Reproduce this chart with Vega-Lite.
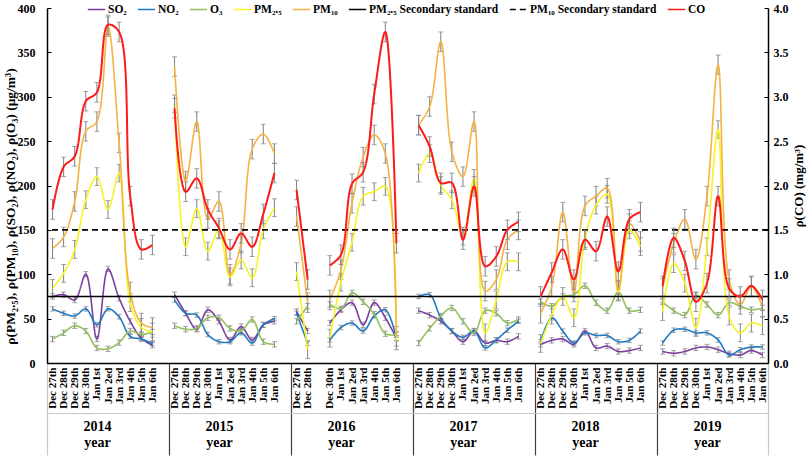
{
  "$schema": "https://vega.github.io/schema/vega-lite/v6.json",
  "width": 721,
  "height": 355,
  "autosize": {"type": "none"},
  "padding": {"left": 47, "top": 8, "right": 41, "bottom": 93},
  "datasets": {
    "errs": [
      {"series": "so2", "err": 3},
      {"series": "no2", "err": 2.5},
      {"series": "o3", "err": 3},
      {"series": "pm25", "err": 10},
      {"series": "pm10", "err": 11},
      {"series": "co", "err": 0.11}
    ],
    "obs": [
      {"i": 0, "seg": "2014", "so2": 75, "no2": 61, "o3": 27, "pm25": 84, "pm10": 129, "co": 1.73},
      {"i": 1, "seg": "2014", "so2": 77, "no2": 56, "o3": 34, "pm25": 101, "pm10": 142, "co": 2.21},
      {"i": 2, "seg": "2014", "so2": 71, "no2": 53, "o3": 42, "pm25": 128, "pm10": 182, "co": 2.33},
      {"i": 3, "seg": "2014", "so2": 100, "no2": 61, "o3": 36, "pm25": 184, "pm10": 261, "co": 2.95},
      {"i": 4, "seg": "2014", "so2": 27, "no2": 43, "o3": 17, "pm25": 210, "pm10": 272, "co": 3.05},
      {"i": 5, "seg": "2014", "so2": 106, "no2": 61, "o3": 16, "pm25": 173, "pm10": 379, "co": 3.81},
      {"i": 6, "seg": "2014", "so2": 73, "no2": 52, "o3": 23, "pm25": 214, "pm10": 248, "co": 3.73},
      {"i": 7, "seg": "2014", "so2": 47, "no2": 30, "o3": 36, "pm25": 68, "pm10": 80, "co": 1.88},
      {"i": 8, "seg": "2014", "so2": 28, "no2": 27, "o3": 32, "pm25": 40, "pm10": 45, "co": 1.28},
      {"i": 9, "seg": "2014", "so2": 20, "no2": 22, "o3": 35, "pm25": 35, "pm10": 40, "co": 1.33},
      {"i": 11, "seg": "2015", "so2": 77, "no2": 71, "o3": 42, "pm25": 292, "pm10": 334, "co": 2.87},
      {"i": 12, "seg": "2015", "so2": 56, "no2": 56, "o3": 38, "pm25": 131, "pm10": 205, "co": 1.93},
      {"i": 13, "seg": "2015", "so2": 38, "no2": 54, "o3": 39, "pm25": 174, "pm10": 272, "co": 2.08},
      {"i": 14, "seg": "2015", "so2": 60, "no2": 32, "o3": 51, "pm25": 126, "pm10": 163, "co": 1.73},
      {"i": 15, "seg": "2015", "so2": 47, "no2": 24, "o3": 51, "pm25": 150, "pm10": 182, "co": 1.52},
      {"i": 16, "seg": "2015", "so2": 26, "no2": 24, "o3": 39, "pm25": 97, "pm10": 100, "co": 1.28},
      {"i": 17, "seg": "2015", "so2": 41, "no2": 34, "o3": 36, "pm25": 116, "pm10": 135, "co": 1.46},
      {"i": 18, "seg": "2015", "so2": 26, "no2": 22.5, "o3": 49, "pm25": 96, "pm10": 241, "co": 1.31},
      {"i": 19, "seg": "2015", "so2": 43, "no2": 43, "o3": 24, "pm25": 150, "pm10": 258, "co": 1.68},
      {"i": 20, "seg": "2015", "so2": 47, "no2": 50, "o3": 21, "pm25": 175, "pm10": 236, "co": 2.14},
      {"i": 22, "seg": "2016a", "so2": 58, "no2": 56, "o3": 47, "pm25": 103, "pm10": 165, "co": 1.95},
      {"i": 23, "seg": "2016a", "so2": 36, "no2": 22, "o3": 64, "pm25": 15, "pm10": 68, "co": 0.94},
      {"i": 25, "seg": "2016b", "so2": 45, "no2": 26, "o3": 66, "pm25": 28, "pm10": 71, "co": 1.10},
      {"i": 26, "seg": "2016b", "so2": 60, "no2": 40, "o3": 61, "pm25": 91, "pm10": 105, "co": 1.22},
      {"i": 27, "seg": "2016b", "so2": 68, "no2": 45, "o3": 79, "pm25": 136, "pm10": 180, "co": 2.02},
      {"i": 28, "seg": "2016b", "so2": 43, "no2": 36, "o3": 69, "pm25": 188, "pm10": 232, "co": 2.15},
      {"i": 29, "seg": "2016b", "so2": 68, "no2": 53, "o3": 55, "pm25": 193, "pm10": 257, "co": 3.03},
      {"i": 30, "seg": "2016b", "so2": 51, "no2": 60, "o3": 33, "pm25": 199, "pm10": 236, "co": 3.73},
      {"i": 31, "seg": "2016b", "so2": 28, "no2": 28, "o3": 32, "pm25": 25, "pm10": 30, "co": 1.35},
      {"i": 33, "seg": "2017", "so2": 59, "no2": 75, "o3": 22.5, "pm25": 214, "pm10": 268, "co": 2.68},
      {"i": 34, "seg": "2017", "so2": 54, "no2": 77, "o3": 39, "pm25": 236, "pm10": 289, "co": 2.44},
      {"i": 35, "seg": "2017", "so2": 47, "no2": 51, "o3": 53, "pm25": 200, "pm10": 362, "co": 2.03},
      {"i": 36, "seg": "2017", "so2": 36, "no2": 36, "o3": 62, "pm25": 184, "pm10": 238, "co": 2.03},
      {"i": 37, "seg": "2017", "so2": 24, "no2": 29, "o3": 47, "pm25": 143, "pm10": 210, "co": 1.39},
      {"i": 38, "seg": "2017", "so2": 36, "no2": 36, "o3": 34, "pm25": 208, "pm10": 272, "co": 1.99},
      {"i": 39, "seg": "2017", "so2": 22.5, "no2": 17, "o3": 59, "pm25": 34, "pm10": 81, "co": 1.09},
      {"i": 40, "seg": "2017", "so2": 25.5, "no2": 26, "o3": 56, "pm25": 71, "pm10": 94, "co": 1.20},
      {"i": 41, "seg": "2017", "so2": 24, "no2": 37, "o3": 45, "pm25": 114, "pm10": 139, "co": 1.50},
      {"i": 42, "seg": "2017", "so2": 30, "no2": 47, "o3": 49, "pm25": 114, "pm10": 150, "co": 1.59},
      {"i": 44, "seg": "2018", "so2": 21, "no2": 24, "o3": 69, "pm25": 22, "pm10": 56, "co": 0.75},
      {"i": 45, "seg": "2018", "so2": 25.5, "no2": 51, "o3": 64, "pm25": 54, "pm10": 86, "co": 1.02},
      {"i": 46, "seg": "2018", "so2": 27, "no2": 36, "o3": 75, "pm25": 75, "pm10": 170, "co": 1.28},
      {"i": 47, "seg": "2018", "so2": 21, "no2": 22.5, "o3": 77, "pm25": 51, "pm10": 80, "co": 0.94},
      {"i": 48, "seg": "2018", "so2": 36, "no2": 34, "o3": 87, "pm25": 140, "pm10": 177, "co": 1.39},
      {"i": 49, "seg": "2018", "so2": 17, "no2": 31, "o3": 68, "pm25": 178, "pm10": 188, "co": 1.26},
      {"i": 50, "seg": "2018", "so2": 19, "no2": 31, "o3": 59, "pm25": 190, "pm10": 197, "co": 1.65},
      {"i": 51, "seg": "2018", "so2": 13, "no2": 24, "o3": 80, "pm25": 80, "pm10": 82, "co": 1.03},
      {"i": 52, "seg": "2018", "so2": 14, "no2": 25.5, "o3": 59, "pm25": 150, "pm10": 157, "co": 1.62},
      {"i": 53, "seg": "2018", "so2": 17, "no2": 36, "o3": 60, "pm25": 131, "pm10": 137, "co": 1.70},
      {"i": 55, "seg": "2019", "so2": 13, "no2": 22.5, "o3": 69, "pm25": 58, "pm10": 84, "co": 0.87},
      {"i": 56, "seg": "2019", "so2": 11, "no2": 37, "o3": 59, "pm25": 112, "pm10": 135, "co": 1.41},
      {"i": 57, "seg": "2019", "so2": 13, "no2": 38, "o3": 54, "pm25": 90, "pm10": 162, "co": 1.15},
      {"i": 58, "seg": "2019", "so2": 17, "no2": 34, "o3": 76, "pm25": 40, "pm10": 117, "co": 0.69},
      {"i": 59, "seg": "2019", "so2": 18, "no2": 34, "o3": 66, "pm25": 131, "pm10": 188, "co": 0.90},
      {"i": 60, "seg": "2019", "so2": 15, "no2": 26, "o3": 54, "pm25": 263, "pm10": 336, "co": 1.88},
      {"i": 61, "seg": "2019", "so2": 10.5, "no2": 9, "o3": 68, "pm25": 53, "pm10": 94, "co": 0.84},
      {"i": 62, "seg": "2019", "so2": 9, "no2": 15, "o3": 64, "pm25": 34, "pm10": 66, "co": 0.75},
      {"i": 63, "seg": "2019", "so2": 14, "no2": 18, "o3": 60, "pm25": 45, "pm10": 86, "co": 0.87},
      {"i": 64, "seg": "2019", "so2": 9, "no2": 18, "o3": 62, "pm25": 42, "pm10": 63, "co": 0.71}
    ]
  },
  "data": {"name": "obs"},
  "layer": [
    {
      "transform": [
        {"fold": ["so2", "no2", "o3", "pm25", "pm10"], "as": ["series", "value"]},
        {"lookup": "series", "from": {"data": {"name": "errs"}, "key": "series", "fields": ["err"]}}
      ],
      "layer": [
        {
          "mark": {"type": "errorbar", "ticks": {"size": 5}, "color": "#808080", "thickness": 1},
          "encoding": {
            "x": {
              "field": "i",
              "type": "quantitative",
              "scale": {"domain": [-0.5, 64.5], "nice": false, "zero": false},
              "axis": {
                "orient": "bottom",
                "title": null,
                "values": [-0.5, 0, 1, 2, 3, 4, 5, 6, 7, 8, 9, 10.5, 11, 12, 13, 14, 15, 16, 17, 18, 19, 20, 21.5, 22, 23, 25, 26, 27, 28, 29, 30, 31, 32.5, 33, 34, 35, 36, 37, 38, 39, 40, 41, 42, 43.5, 44, 45, 46, 47, 48, 49, 50, 51, 52, 53, 54.5, 55, 56, 57, 58, 59, 60, 61, 62, 63, 64, 64.5],
                "labelExpr": "datum.value % 1 ? '' : ['Dec 27th','Dec 28th','Dec 29th','Dec 30th','Jan 1st','Jan 2ed','Jan 3rd','Jan 4th','Jan 5th','Jan 6th',''][datum.value % 11]",
                "labelAngle": 270,
                "labelAlign": "right",
                "labelBaseline": "middle",
                "labelFontSize": 11,
                "labelPadding": -88,
                "labelOverlap": false,
                "labelFlush": false,
                "labelBound": false,
                "tickSize": 92,
                "tickWidth": 1.2,
                "tickColor": {
                  "condition": [
                    {"test": "datum.value == -0.5 || datum.value == 64.5", "value": "#c8c8c8"},
                    {"test": "datum.value % 1 != 0", "value": "#404040"}
                  ],
                  "value": "transparent"
                }
              }
            },
            "y": {
              "field": "value",
              "type": "quantitative",
              "scale": {"domain": [0, 400], "nice": false},
              "axis": {
                "orient": "left",
                "values": [0, 50, 100, 150, 200, 250, 300, 350, 400],
                "tickSize": -4,
                "labelPadding": 16,
                "labelFontSize": 12,
                "titleFontSize": 13.5,
                "titlePadding": 0,
                "titleY": 198
              },
              "title": "ρ(PM₂.₅), ρ(PM₁₀), ρ(SO₂), ρ(NO₂), ρ(O₃)   (μg/m³)"
            },
            "yError": {"field": "err"}
          }
        },
        {
          "mark": {"type": "line", "interpolate": "catmull-rom", "strokeWidth": 1.6},
          "encoding": {
            "x": {
              "field": "i",
              "type": "quantitative",
              "scale": {"domain": [-0.5, 64.5], "nice": false, "zero": false},
              "axis": {
                "orient": "bottom",
                "title": null,
                "values": [-0.5, 0, 1, 2, 3, 4, 5, 6, 7, 8, 9, 10.5, 11, 12, 13, 14, 15, 16, 17, 18, 19, 20, 21.5, 22, 23, 25, 26, 27, 28, 29, 30, 31, 32.5, 33, 34, 35, 36, 37, 38, 39, 40, 41, 42, 43.5, 44, 45, 46, 47, 48, 49, 50, 51, 52, 53, 54.5, 55, 56, 57, 58, 59, 60, 61, 62, 63, 64, 64.5],
                "labelExpr": "datum.value % 1 ? '' : ['Dec 27th','Dec 28th','Dec 29th','Dec 30th','Jan 1st','Jan 2ed','Jan 3rd','Jan 4th','Jan 5th','Jan 6th',''][datum.value % 11]",
                "labelAngle": 270,
                "labelAlign": "right",
                "labelBaseline": "middle",
                "labelFontSize": 11,
                "labelPadding": -88,
                "labelOverlap": false,
                "labelFlush": false,
                "labelBound": false,
                "tickSize": 92,
                "tickWidth": 1.2,
                "tickColor": {
                  "condition": [
                    {"test": "datum.value == -0.5 || datum.value == 64.5", "value": "#c8c8c8"},
                    {"test": "datum.value % 1 != 0", "value": "#404040"}
                  ],
                  "value": "transparent"
                }
              }
            },
            "y": {
              "field": "value",
              "type": "quantitative",
              "scale": {"domain": [0, 400], "nice": false},
              "axis": {
                "orient": "left",
                "values": [0, 50, 100, 150, 200, 250, 300, 350, 400],
                "tickSize": -4,
                "labelPadding": 16,
                "labelFontSize": 12,
                "titleFontSize": 13.5,
                "titlePadding": 0,
                "titleY": 198
              },
              "title": "ρ(PM₂.₅), ρ(PM₁₀), ρ(SO₂), ρ(NO₂), ρ(O₃)   (μg/m³)"
            },
            "color": {
              "field": "series",
              "type": "nominal",
              "scale": {
                "domain": ["so2", "no2", "o3", "pm25", "pm10", "std25", "std10", "co"],
                "range": ["#7B3FA0", "#1F7AC4", "#92C05A", "#F5F522", "#F5B342", "#000000", "#000000", "#FF1A1A"]
              },
              "legend": {
                "orient": "none",
                "legendX": 40,
                "legendY": -8,
                "direction": "horizontal",
                "title": null,
                "labelExpr": "{so2: 'SO₂', no2: 'NO₂', o3: 'O₃', pm25: 'PM₂.₅', pm10: 'PM₁₀', std25: 'PM₂.₅ Secondary standard', std10: 'PM₁₀ Secondary standard', co: 'CO'}[datum.label]"
              }
            },
            "strokeDash": {
              "field": "series",
              "type": "nominal",
              "scale": {
                "domain": ["so2", "no2", "o3", "pm25", "pm10", "std25", "std10", "co"],
                "range": [[1, 0], [1, 0], [1, 0], [1, 0], [1, 0], [1, 0], [6, 4], [1, 0]]
              },
              "legend": {
                "orient": "none",
                "legendX": 40,
                "legendY": -8,
                "direction": "horizontal",
                "title": null,
                "labelExpr": "{so2: 'SO₂', no2: 'NO₂', o3: 'O₃', pm25: 'PM₂.₅', pm10: 'PM₁₀', std25: 'PM₂.₅ Secondary standard', std10: 'PM₁₀ Secondary standard', co: 'CO'}[datum.label]"
              }
            },
            "detail": {"field": "seg"}
          }
        },
        {
          "data": {"values": [{"series": "std25", "v": 75}, {"series": "std10", "v": 150}]},
          "mark": {"type": "rule", "strokeWidth": 1.6},
          "encoding": {
            "y": {
              "field": "v",
              "type": "quantitative",
              "scale": {"domain": [0, 400], "nice": false},
              "axis": {
                "orient": "left",
                "values": [0, 50, 100, 150, 200, 250, 300, 350, 400],
                "tickSize": -4,
                "labelPadding": 16,
                "labelFontSize": 12,
                "titleFontSize": 13.5,
                "titlePadding": 0,
                "titleY": 198
              },
              "title": "ρ(PM₂.₅), ρ(PM₁₀), ρ(SO₂), ρ(NO₂), ρ(O₃)   (μg/m³)"
            },
            "color": {"field": "series", "type": "nominal"},
            "strokeDash": {"field": "series", "type": "nominal"}
          }
        }
      ]
    },
    {
      "transform": [
        {"fold": ["co"], "as": ["series", "value"]},
        {"lookup": "series", "from": {"data": {"name": "errs"}, "key": "series", "fields": ["err"]}}
      ],
      "layer": [
        {
          "mark": {"type": "errorbar", "ticks": {"size": 5}, "color": "#808080", "thickness": 1},
          "encoding": {
            "x": {
              "field": "i",
              "type": "quantitative",
              "scale": {"domain": [-0.5, 64.5], "nice": false, "zero": false},
              "axis": {
                "orient": "bottom",
                "offset": 50,
                "title": null,
                "values": [4, 15, 26, 37, 48, 59],
                "labelExpr": "[['2014','year'],['2015','year'],['2016','year'],['2017','year'],['2018','year'],['2019','year']][floor(datum.value / 11)]",
                "ticks": false,
                "domainColor": "#c8c8c8",
                "domainWidth": 1.2,
                "labelAngle": 0,
                "labelBaseline": "top",
                "labelFontSize": 14,
                "labelLineHeight": 16,
                "labelPadding": 6,
                "labelOverlap": false
              }
            },
            "y": {
              "field": "value",
              "type": "quantitative",
              "scale": {"domain": [0, 4], "nice": false},
              "axis": {
                "orient": "right",
                "values": [0, 0.5, 1, 1.5, 2, 2.5, 3, 3.5, 4],
                "format": ".1f",
                "tickSize": -4,
                "labelPadding": 9,
                "labelFontSize": 12,
                "titleFontSize": 13,
                "titleAngle": 270,
                "titleBaseline": "top",
                "titlePadding": 4
              },
              "title": "ρ(CO)   (mg/m³)"
            },
            "yError": {"field": "err"}
          }
        },
        {
          "mark": {"type": "line", "interpolate": "catmull-rom", "strokeWidth": 2},
          "encoding": {
            "x": {
              "field": "i",
              "type": "quantitative",
              "scale": {"domain": [-0.5, 64.5], "nice": false, "zero": false},
              "axis": {
                "orient": "bottom",
                "offset": 50,
                "title": null,
                "values": [4, 15, 26, 37, 48, 59],
                "labelExpr": "[['2014','year'],['2015','year'],['2016','year'],['2017','year'],['2018','year'],['2019','year']][floor(datum.value / 11)]",
                "ticks": false,
                "domainColor": "#c8c8c8",
                "domainWidth": 1.2,
                "labelAngle": 0,
                "labelBaseline": "top",
                "labelFontSize": 14,
                "labelLineHeight": 16,
                "labelPadding": 6,
                "labelOverlap": false
              }
            },
            "y": {
              "field": "value",
              "type": "quantitative",
              "scale": {"domain": [0, 4], "nice": false},
              "axis": {
                "orient": "right",
                "values": [0, 0.5, 1, 1.5, 2, 2.5, 3, 3.5, 4],
                "format": ".1f",
                "tickSize": -4,
                "labelPadding": 9,
                "labelFontSize": 12,
                "titleFontSize": 13,
                "titleAngle": 270,
                "titleBaseline": "top",
                "titlePadding": 4
              },
              "title": "ρ(CO)   (mg/m³)"
            },
            "color": {"field": "series", "type": "nominal"},
            "strokeDash": {"field": "series", "type": "nominal"},
            "detail": {"field": "seg"}
          }
        }
      ]
    }
  ],
  "resolve": {
    "scale": {"x": "independent", "y": "independent"},
    "axis": {"x": "independent", "y": "independent"}
  },
  "config": {
    "view": {"stroke": null},
    "font": "Liberation Serif",
    "axis": {
      "labelFont": "Liberation Serif",
      "labelFontWeight": "bold",
      "labelColor": "#000000",
      "titleFont": "Liberation Serif",
      "titleFontWeight": "bold",
      "titleColor": "#000000",
      "domainColor": "#000000",
      "domainWidth": 1.5,
      "tickColor": "#000000",
      "grid": false
    },
    "legend": {
      "symbolType": "stroke",
      "symbolSize": 300,
      "symbolStrokeWidth": 1.6,
      "labelFont": "Liberation Serif",
      "labelFontWeight": "bold",
      "labelFontSize": 11.5,
      "labelOffset": 2,
      "columnPadding": 7,
      "padding": 0,
      "labelLimit": 300
    }
  }
}
